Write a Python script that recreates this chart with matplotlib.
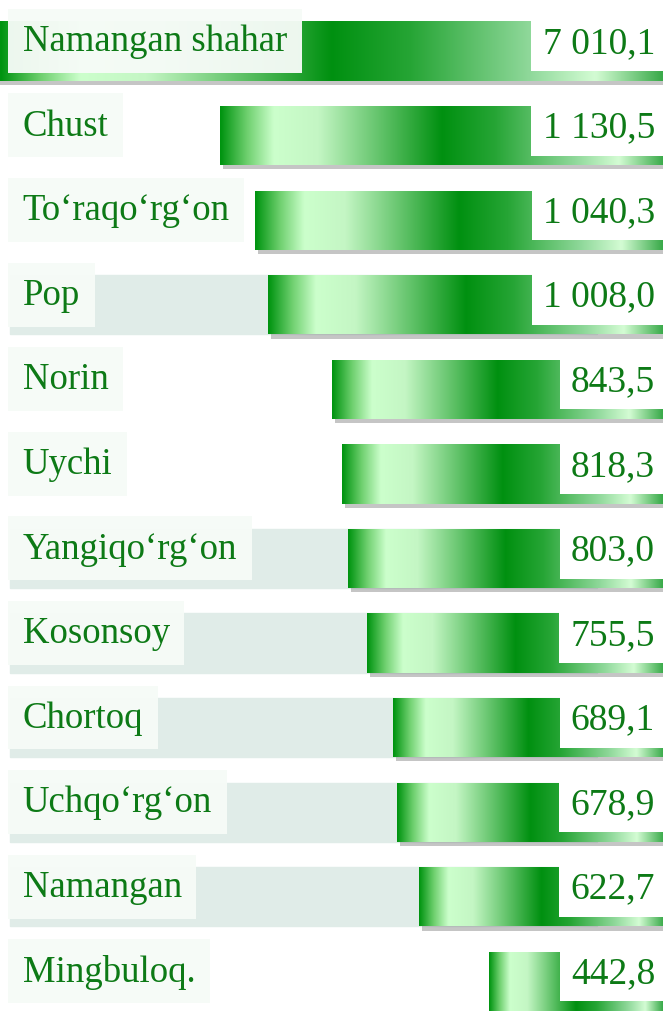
import matplotlib
matplotlib.use("Agg")
from matplotlib import pyplot as plt
from matplotlib import patheffects as pe
from matplotlib.colors import LinearSegmentedColormap
import numpy as np

districts = ["Namangan shahar", "Chust", "To\u2018raqo\u2018rg\u2018on", "Pop", "Norin", "Uychi",
             "Yangiqo\u2018rg\u2018on", "Kosonsoy", "Chortoq", "Uchqo\u2018rg\u2018on", "Namangan",
             "Mingbuloq."]
values = [7010.1, 1130.5, 1040.3, 1008.0, 843.5, 818.3, 803.0, 755.5, 689.1, 678.9, 622.7, 442.8]
value_labels = ["7 010,1", "1 130,5", "1 040,3", "1 008,0", "843,5", "818,3",
                "803,0", "755,5", "689,1", "678,9", "622,7", "442,8"]
# rows that have a grey track behind the bar
tracked = [False, False, False, True, False, False, True, True, True, True, True, False]

plt.rcParams["font.family"] = ["Liberation Serif", "DejaVu Serif"]
text_green = "#0d7a16"

bar_cmap = LinearSegmentedColormap.from_list("bar", [
    (0.00, "#009410"), (0.06, "#6fd06f"), (0.12, "#ccffcc"), (0.22, "#c4f6c4"),
    (0.50, "#009010"), (0.62, "#26a535"), (0.80, "#8fd89a"), (0.90, "#d4fcd4"),
    (1.00, "#3aaa4a")])

fig = plt.figure(figsize=(6.63, 10.12), dpi=100)
ax = fig.add_axes([0, 0, 1, 1])
ax.set_xlim(1691, 0)
ax.set_ylim(11.35, -0.615)
ax.axis("off")

y = np.arange(len(values))
h = 0.7

for yi, t in zip(y, tracked):
    if t:
        ax.axhspan(yi - h / 2, yi + h / 2, xmin=0.015, xmax=0.9, color="#e0ece8", zorder=1)

bars = ax.barh(y, values, height=h, color="#2aa53a", zorder=2)
grad = np.linspace(0, 1, 256).reshape(1, -1)
xleft = ax.get_xlim()[0]
for bar, v in zip(bars, values):
    bar.set_path_effects([pe.SimplePatchShadow(offset=(2, -3), shadow_rgbFace="#808080", alpha=0.45),
                          pe.Normal()])
    x0 = min(v, xleft)
    im = ax.imshow(grad, cmap=bar_cmap, aspect="auto", interpolation="bilinear",
                   extent=(x0, 0, bar.get_y() + bar.get_height(), bar.get_y()), zorder=3)
    im.set_clip_path(bar)

ax.set_xlim(1691, 0)
ax.set_ylim(11.35, -0.615)

trans = ax.get_yaxis_transform()
for yi, name in zip(y, districts):
    ax.text(0.034, yi - 0.12, name, transform=trans, ha="left", va="center",
            fontsize=26.5, color=text_green, zorder=5,
            bbox=dict(boxstyle="square,pad=0.4", facecolor="#f6fbf7", edgecolor="none", alpha=0.96))

for yi, lab in zip(y, value_labels):
    ax.text(0.988, yi - 0.1, lab, transform=trans, ha="right", va="center",
            fontsize=27, color=text_green, zorder=6,
            bbox=dict(boxstyle="square,pad=0.3", facecolor="white", edgecolor="none"))

fig.savefig("out.png", dpi=100)
